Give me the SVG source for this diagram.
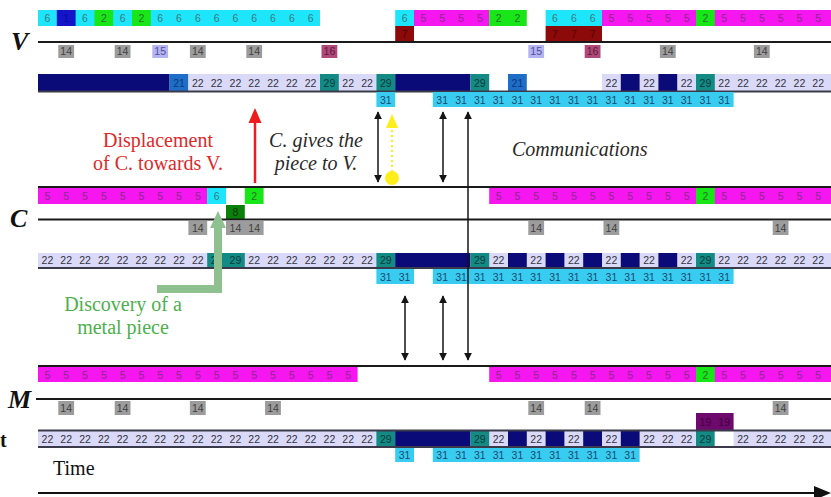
<svg xmlns="http://www.w3.org/2000/svg" width="831" height="497" viewBox="0 0 831 497">
<style>
.cy{fill:#1ee6fa}.mg{fill:#f516f0}.gr{fill:#19e619}.bl{fill:#1414c8}.dr{fill:#8c0a0a}.gy{fill:#9c9c9c}.lv{fill:#b4b4f0}.rs{fill:#b0487a}.nv{fill:#0a0a78}.md{fill:#1e6ec8}.la{fill:#dadaf8}.tl{fill:#138a84}.dg{fill:#0a800a}.pp{fill:#6e0a6e}.c31{fill:#38cdf0}.wh{fill:#fff}
text.n{font-family:"Liberation Sans",Arial,sans-serif;font-size:10.5px;text-anchor:middle}
.tcy{fill:#3c7880}.tmg{fill:#8c2a8c}.tgr{fill:#2a702a}.tbl{fill:#0a0aa0}.tdr{fill:#5a0000}.tgy{fill:#404040}.tlv{fill:#5050a0}.trs{fill:#5a1a3a}.tla{fill:#333340}.ttl{fill:#063c3c}.tmd{fill:#0a3a80}.t31{fill:#1a4a70}.tdg{fill:#053a05}.tpp{fill:#400040}
.ln{stroke:#1a1a1a;stroke-width:1.8}.ls{stroke:#3a3a4a;stroke-width:2}
.lab{font-family:"Liberation Serif","Times New Roman",serif;font-weight:bold;font-style:italic;font-size:26px;fill:#111}
.ann{font-family:"Liberation Serif","Times New Roman",serif;font-size:20px}
.arr{stroke:#151515;stroke-width:1.5;marker-start:url(#ah);marker-end:url(#ah)}
</style>
<defs>
<marker id="ah" viewBox="0 0 10 10" refX="9" refY="5" markerUnits="userSpaceOnUse" markerWidth="8" markerHeight="8" orient="auto-start-reverse"><path d="M0,0 L10,5 L0,10 z" fill="#151515"/></marker>
</defs>

<g id="row-V">
<text class="lab" x="11" y="50">V</text>
<rect class="cy" x="38" y="10" width="282" height="16"/>
<rect class="bl" x="56.8" y="10" width="18.8" height="16"/>
<rect class="gr" x="94.4" y="10" width="18.8" height="16"/>
<rect class="gr" x="132" y="10" width="18.8" height="16"/>
<rect class="cy" x="395.2" y="10" width="18.8" height="16"/>
<rect class="mg" x="414" y="10" width="75.2" height="16"/>
<rect class="gr" x="489.2" y="10" width="37.6" height="16"/>
<rect class="cy" x="545.6" y="10" width="56.4" height="16"/>
<rect class="mg" x="602" y="10" width="229" height="16"/>
<rect class="gr" x="696" y="10" width="18.8" height="16"/>
<g class="tcy"><text class="n" x="47.4" y="21.5">6</text><text class="n" x="85" y="21.5">6</text><text class="n" x="122.6" y="21.5">6</text><text class="n" x="160.2" y="21.5">6</text><text class="n" x="179" y="21.5">6</text><text class="n" x="197.8" y="21.5">6</text><text class="n" x="216.6" y="21.5">6</text><text class="n" x="235.4" y="21.5">6</text><text class="n" x="254.2" y="21.5">6</text><text class="n" x="273" y="21.5">6</text><text class="n" x="291.8" y="21.5">6</text><text class="n" x="310.6" y="21.5">6</text><text class="n" x="404.6" y="21.5">6</text><text class="n" x="555" y="21.5">6</text><text class="n" x="573.8" y="21.5">6</text><text class="n" x="592.6" y="21.5">6</text></g>
<text class="n tbl" x="66.2" y="21.5">1</text>
<g class="tgr"><text class="n" x="103.8" y="21.5">2</text><text class="n" x="141.4" y="21.5">2</text><text class="n" x="498.6" y="21.5">2</text><text class="n" x="517.4" y="21.5">2</text><text class="n" x="705.4" y="21.5">2</text></g>
<g class="tmg"><text class="n" x="423.4" y="21.5">5</text><text class="n" x="442.2" y="21.5">5</text><text class="n" x="461" y="21.5">5</text><text class="n" x="479.8" y="21.5">5</text><text class="n" x="611.4" y="21.5">5</text><text class="n" x="630.2" y="21.5">5</text><text class="n" x="649" y="21.5">5</text><text class="n" x="667.8" y="21.5">5</text><text class="n" x="686.6" y="21.5">5</text><text class="n" x="724.2" y="21.5">5</text><text class="n" x="743" y="21.5">5</text><text class="n" x="761.8" y="21.5">5</text><text class="n" x="780.6" y="21.5">5</text><text class="n" x="799.4" y="21.5">5</text><text class="n" x="818.2" y="21.5">5</text></g>
<rect class="dr" x="395.2" y="26" width="18.8" height="16"/>
<rect class="dr" x="545.6" y="26" width="56.4" height="16"/>
<g class="tdr"><text class="n" x="404.6" y="37.5">7</text><text class="n" x="555" y="37.5">7</text><text class="n" x="573.8" y="37.5">7</text><text class="n" x="592.6" y="37.5">7</text></g>
<line class="ln" x1="38" y1="42" x2="831" y2="42"/>
<g class="gy"><rect x="58.3" y="45" width="15.8" height="13"/><rect x="114.7" y="45" width="15.8" height="13"/><rect x="189.9" y="45" width="15.8" height="13"/><rect x="246.3" y="45" width="15.8" height="13"/><rect x="659.9" y="45" width="15.8" height="13"/><rect x="753.9" y="45" width="15.8" height="13"/></g>
<rect class="lv" x="152.3" y="45" width="15.8" height="13"/><rect class="lv" x="528.3" y="45" width="15.8" height="13"/>
<rect class="rs" x="321.5" y="45" width="15.8" height="13"/><rect class="rs" x="584.7" y="45" width="15.8" height="13"/>
<g class="tgy"><text class="n" x="66.2" y="55">14</text><text class="n" x="122.6" y="55">14</text><text class="n" x="197.8" y="55">14</text><text class="n" x="254.2" y="55">14</text><text class="n" x="667.8" y="55">14</text><text class="n" x="761.8" y="55">14</text></g>
<text class="n tlv" x="160.2" y="55">15</text><text class="n tlv" x="536.2" y="55">15</text>
<text class="n trs" x="329.4" y="55">16</text><text class="n trs" x="592.6" y="55">16</text>
<rect class="nv" x="38" y="74" width="131.6" height="17"/>
<rect class="md" x="169.6" y="74" width="18.8" height="17"/>
<rect class="la" x="188.4" y="74" width="188" height="17"/>
<rect class="tl" x="320" y="74" width="18.8" height="17"/>
<rect class="tl" x="376.4" y="74" width="18.8" height="17"/>
<rect class="nv" x="395.2" y="74" width="75.2" height="17"/>
<rect class="tl" x="470.4" y="74" width="18.8" height="17"/>
<rect class="md" x="508" y="74" width="18.8" height="17"/>
<rect class="la" x="602" y="74" width="229" height="17"/>
<rect class="nv" x="620.8" y="74" width="18.8" height="17"/>
<rect class="nv" x="658.4" y="74" width="18.8" height="17"/>
<rect class="tl" x="696" y="74" width="18.8" height="17"/>
<text class="n tmd" x="179" y="86.5">21</text><text class="n tmd" x="517.4" y="86.5">21</text>
<g class="tla"><text class="n" x="197.8" y="86.5">22</text><text class="n" x="216.6" y="86.5">22</text><text class="n" x="235.4" y="86.5">22</text><text class="n" x="254.2" y="86.5">22</text><text class="n" x="273" y="86.5">22</text><text class="n" x="291.8" y="86.5">22</text><text class="n" x="310.6" y="86.5">22</text><text class="n" x="348.2" y="86.5">22</text><text class="n" x="367" y="86.5">22</text><text class="n" x="611.4" y="86.5">22</text><text class="n" x="649" y="86.5">22</text><text class="n" x="686.6" y="86.5">22</text><text class="n" x="724.2" y="86.5">22</text><text class="n" x="743" y="86.5">22</text><text class="n" x="761.8" y="86.5">22</text><text class="n" x="780.6" y="86.5">22</text><text class="n" x="799.4" y="86.5">22</text><text class="n" x="818.2" y="86.5">22</text></g>
<g class="ttl"><text class="n" x="329.4" y="86.5">29</text><text class="n" x="385.8" y="86.5">29</text><text class="n" x="479.8" y="86.5">29</text><text class="n" x="705.4" y="86.5">29</text></g>
<line class="ls" x1="38" y1="91.5" x2="831" y2="91.5"/>
<rect class="c31" x="376.4" y="92" width="18.8" height="15"/>
<rect class="c31" x="432.8" y="92" width="300.8" height="15"/>
<g class="t31"><text class="n" x="385.8" y="103.5">31</text><text class="n" x="442.2" y="103.5">31</text><text class="n" x="461" y="103.5">31</text><text class="n" x="479.8" y="103.5">31</text><text class="n" x="498.6" y="103.5">31</text><text class="n" x="517.4" y="103.5">31</text><text class="n" x="536.2" y="103.5">31</text><text class="n" x="555" y="103.5">31</text><text class="n" x="573.8" y="103.5">31</text><text class="n" x="592.6" y="103.5">31</text><text class="n" x="611.4" y="103.5">31</text><text class="n" x="630.2" y="103.5">31</text><text class="n" x="649" y="103.5">31</text><text class="n" x="667.8" y="103.5">31</text><text class="n" x="686.6" y="103.5">31</text><text class="n" x="705.4" y="103.5">31</text><text class="n" x="724.2" y="103.5">31</text></g>
</g>

<g id="row-C">
<text class="lab" x="10" y="227">C</text>
<line class="ln" x1="38" y1="187" x2="831" y2="187"/>
<rect class="mg" x="38" y="188" width="169.2" height="16"/>
<rect class="cy" x="207.2" y="188" width="18.8" height="16"/>
<rect class="gr" x="244.8" y="188" width="18.8" height="16"/>
<rect class="mg" x="489.2" y="188" width="341.8" height="16"/>
<rect class="gr" x="696" y="188" width="18.8" height="16"/>
<g class="tmg"><text class="n" x="47.4" y="200">5</text><text class="n" x="66.2" y="200">5</text><text class="n" x="85" y="200">5</text><text class="n" x="103.8" y="200">5</text><text class="n" x="122.6" y="200">5</text><text class="n" x="141.4" y="200">5</text><text class="n" x="160.2" y="200">5</text><text class="n" x="179" y="200">5</text><text class="n" x="197.8" y="200">5</text><text class="n" x="498.6" y="200">5</text><text class="n" x="517.4" y="200">5</text><text class="n" x="536.2" y="200">5</text><text class="n" x="555" y="200">5</text><text class="n" x="573.8" y="200">5</text><text class="n" x="592.6" y="200">5</text><text class="n" x="611.4" y="200">5</text><text class="n" x="630.2" y="200">5</text><text class="n" x="649" y="200">5</text><text class="n" x="667.8" y="200">5</text><text class="n" x="686.6" y="200">5</text><text class="n" x="724.2" y="200">5</text><text class="n" x="743" y="200">5</text><text class="n" x="761.8" y="200">5</text><text class="n" x="780.6" y="200">5</text><text class="n" x="799.4" y="200">5</text><text class="n" x="818.2" y="200">5</text></g>
<text class="n tcy" x="216.6" y="200">6</text>
<text class="n tgr" x="254.2" y="200">2</text><text class="n tgr" x="705.4" y="200">2</text>
<rect class="dg" x="226" y="205" width="18.8" height="14"/>
<text class="n tdg" x="235.4" y="215.5">8</text>
<line class="ln" x1="38" y1="219.5" x2="831" y2="219.5"/>
<g class="gy"><rect x="188.4" y="221" width="18.8" height="14"/><rect x="226" y="221" width="37.6" height="14"/><rect x="528.3" y="221" width="15.8" height="14"/><rect x="603.5" y="221" width="15.8" height="14"/><rect x="772.7" y="221" width="15.8" height="14"/></g>
<g class="tgy"><text class="n" x="197.8" y="232">14</text><text class="n" x="235.4" y="232">14</text><text class="n" x="254.2" y="232">14</text><text class="n" x="536.2" y="232">14</text><text class="n" x="611.4" y="232">14</text><text class="n" x="780.6" y="232">14</text></g>
<rect class="la" x="38" y="253" width="793" height="14"/>
<rect class="tl" x="207.2" y="253" width="37.6" height="14"/>
<rect class="tl" x="376.4" y="253" width="18.8" height="14"/>
<rect class="nv" x="395.2" y="253" width="75.2" height="14"/>
<rect class="tl" x="470.4" y="253" width="18.8" height="14"/>
<g class="nv"><rect x="508" y="253" width="18.8" height="14"/><rect x="545.6" y="253" width="18.8" height="14"/><rect x="583.2" y="253" width="18.8" height="14"/><rect x="620.8" y="253" width="18.8" height="14"/><rect x="658.4" y="253" width="18.8" height="14"/></g>
<rect class="tl" x="696" y="253" width="18.8" height="14"/>
<g class="tla"><text class="n" x="47.4" y="264">22</text><text class="n" x="66.2" y="264">22</text><text class="n" x="85" y="264">22</text><text class="n" x="103.8" y="264">22</text><text class="n" x="122.6" y="264">22</text><text class="n" x="141.4" y="264">22</text><text class="n" x="160.2" y="264">22</text><text class="n" x="179" y="264">22</text><text class="n" x="197.8" y="264">22</text><text class="n" x="254.2" y="264">22</text><text class="n" x="273" y="264">22</text><text class="n" x="291.8" y="264">22</text><text class="n" x="310.6" y="264">22</text><text class="n" x="329.4" y="264">22</text><text class="n" x="348.2" y="264">22</text><text class="n" x="367" y="264">22</text><text class="n" x="498.6" y="264">22</text><text class="n" x="536.2" y="264">22</text><text class="n" x="573.8" y="264">22</text><text class="n" x="611.4" y="264">22</text><text class="n" x="649" y="264">22</text><text class="n" x="686.6" y="264">22</text><text class="n" x="724.2" y="264">22</text><text class="n" x="743" y="264">22</text><text class="n" x="761.8" y="264">22</text><text class="n" x="780.6" y="264">22</text><text class="n" x="799.4" y="264">22</text><text class="n" x="818.2" y="264">22</text></g>
<g class="ttl"><text class="n" x="216.6" y="264">29</text><text class="n" x="235.4" y="264">29</text><text class="n" x="385.8" y="264">29</text><text class="n" x="479.8" y="264">29</text><text class="n" x="705.4" y="264">29</text></g>
<line class="ls" x1="38" y1="268" x2="831" y2="268"/>
<rect class="c31" x="376.4" y="269" width="37.6" height="15"/>
<rect class="c31" x="432.8" y="269" width="300.8" height="15"/>
<g class="t31"><text class="n" x="385.8" y="280.5">31</text><text class="n" x="404.6" y="280.5">31</text><text class="n" x="442.2" y="280.5">31</text><text class="n" x="461" y="280.5">31</text><text class="n" x="479.8" y="280.5">31</text><text class="n" x="498.6" y="280.5">31</text><text class="n" x="517.4" y="280.5">31</text><text class="n" x="536.2" y="280.5">31</text><text class="n" x="555" y="280.5">31</text><text class="n" x="573.8" y="280.5">31</text><text class="n" x="592.6" y="280.5">31</text><text class="n" x="611.4" y="280.5">31</text><text class="n" x="630.2" y="280.5">31</text><text class="n" x="649" y="280.5">31</text><text class="n" x="667.8" y="280.5">31</text><text class="n" x="686.6" y="280.5">31</text><text class="n" x="705.4" y="280.5">31</text><text class="n" x="724.2" y="280.5">31</text></g>
</g>

<g id="row-M">
<text class="lab" x="8" y="408">M</text>
<line class="ln" x1="38" y1="366" x2="831" y2="366"/>
<rect class="mg" x="38" y="367" width="319.6" height="15"/>
<rect class="mg" x="489.2" y="367" width="341.8" height="15"/>
<rect class="gr" x="696" y="367" width="18.8" height="15"/>
<g class="tmg"><text class="n" x="47.4" y="378.5">5</text><text class="n" x="66.2" y="378.5">5</text><text class="n" x="85" y="378.5">5</text><text class="n" x="103.8" y="378.5">5</text><text class="n" x="122.6" y="378.5">5</text><text class="n" x="141.4" y="378.5">5</text><text class="n" x="160.2" y="378.5">5</text><text class="n" x="179" y="378.5">5</text><text class="n" x="197.8" y="378.5">5</text><text class="n" x="216.6" y="378.5">5</text><text class="n" x="235.4" y="378.5">5</text><text class="n" x="254.2" y="378.5">5</text><text class="n" x="273" y="378.5">5</text><text class="n" x="291.8" y="378.5">5</text><text class="n" x="310.6" y="378.5">5</text><text class="n" x="329.4" y="378.5">5</text><text class="n" x="348.2" y="378.5">5</text><text class="n" x="498.6" y="378.5">5</text><text class="n" x="517.4" y="378.5">5</text><text class="n" x="536.2" y="378.5">5</text><text class="n" x="555" y="378.5">5</text><text class="n" x="573.8" y="378.5">5</text><text class="n" x="592.6" y="378.5">5</text><text class="n" x="611.4" y="378.5">5</text><text class="n" x="630.2" y="378.5">5</text><text class="n" x="649" y="378.5">5</text><text class="n" x="667.8" y="378.5">5</text><text class="n" x="686.6" y="378.5">5</text><text class="n" x="724.2" y="378.5">5</text><text class="n" x="743" y="378.5">5</text><text class="n" x="761.8" y="378.5">5</text><text class="n" x="780.6" y="378.5">5</text><text class="n" x="799.4" y="378.5">5</text><text class="n" x="818.2" y="378.5">5</text></g>
<text class="n tgr" x="705.4" y="378.5">2</text>
<line class="ln" x1="36" y1="399" x2="831" y2="399"/>
<g class="gy"><rect x="58.3" y="401" width="15.8" height="14"/><rect x="114.7" y="401" width="15.8" height="14"/><rect x="189.9" y="401" width="15.8" height="14"/><rect x="265.1" y="401" width="15.8" height="14"/><rect x="528.3" y="401" width="15.8" height="14"/><rect x="584.7" y="401" width="15.8" height="14"/><rect x="772.7" y="401" width="15.8" height="14"/></g>
<g class="tgy"><text class="n" x="66.2" y="412">14</text><text class="n" x="122.6" y="412">14</text><text class="n" x="197.8" y="412">14</text><text class="n" x="273" y="412">14</text><text class="n" x="536.2" y="412">14</text><text class="n" x="592.6" y="412">14</text><text class="n" x="780.6" y="412">14</text></g>
<rect class="pp" x="696" y="413" width="37.6" height="17"/>
<text class="n tpp" x="705.4" y="425.5">19</text><text class="n tpp" x="724.2" y="425.5">19</text>
<rect class="la" x="38" y="431" width="793" height="16"/>
<rect class="tl" x="376.4" y="431" width="18.8" height="16"/>
<rect class="nv" x="395.2" y="431" width="75.2" height="16"/>
<rect class="tl" x="470.4" y="431" width="18.8" height="16"/>
<g class="nv"><rect x="508" y="431" width="18.8" height="16"/><rect x="545.6" y="431" width="18.8" height="16"/><rect x="583.2" y="431" width="18.8" height="16"/><rect x="620.8" y="431" width="18.8" height="16"/></g>
<rect class="tl" x="696" y="431" width="18.8" height="16"/>
<rect class="wh" x="714.8" y="431" width="18.8" height="16"/>
<g class="tla"><text class="n" x="47.4" y="443">22</text><text class="n" x="66.2" y="443">22</text><text class="n" x="85" y="443">22</text><text class="n" x="103.8" y="443">22</text><text class="n" x="122.6" y="443">22</text><text class="n" x="141.4" y="443">22</text><text class="n" x="160.2" y="443">22</text><text class="n" x="179" y="443">22</text><text class="n" x="197.8" y="443">22</text><text class="n" x="216.6" y="443">22</text><text class="n" x="235.4" y="443">22</text><text class="n" x="254.2" y="443">22</text><text class="n" x="273" y="443">22</text><text class="n" x="291.8" y="443">22</text><text class="n" x="310.6" y="443">22</text><text class="n" x="329.4" y="443">22</text><text class="n" x="348.2" y="443">22</text><text class="n" x="367" y="443">22</text><text class="n" x="498.6" y="443">22</text><text class="n" x="536.2" y="443">22</text><text class="n" x="573.8" y="443">22</text><text class="n" x="611.4" y="443">22</text><text class="n" x="649" y="443">22</text><text class="n" x="667.8" y="443">22</text><text class="n" x="686.6" y="443">22</text><text class="n" x="743" y="443">22</text><text class="n" x="761.8" y="443">22</text><text class="n" x="780.6" y="443">22</text><text class="n" x="799.4" y="443">22</text><text class="n" x="818.2" y="443">22</text></g>
<g class="ttl"><text class="n" x="385.8" y="443">29</text><text class="n" x="479.8" y="443">29</text><text class="n" x="705.4" y="443">29</text></g>
<line class="ls" x1="38" y1="430.5" x2="831" y2="430.5"/>
<line class="ls" x1="38" y1="447" x2="831" y2="447"/>
<rect class="c31" x="395.2" y="448" width="18.8" height="14"/>
<rect class="c31" x="432.8" y="448" width="206.8" height="14"/>
<g class="t31"><text class="n" x="404.6" y="459">31</text><text class="n" x="442.2" y="459">31</text><text class="n" x="461" y="459">31</text><text class="n" x="479.8" y="459">31</text><text class="n" x="498.6" y="459">31</text><text class="n" x="517.4" y="459">31</text><text class="n" x="536.2" y="459">31</text><text class="n" x="555" y="459">31</text><text class="n" x="573.8" y="459">31</text><text class="n" x="592.6" y="459">31</text><text class="n" x="611.4" y="459">31</text><text class="n" x="630.2" y="459">31</text></g>
</g>

<g id="time-axis">
<text x="0" y="447" style="font-family:'Liberation Serif','Times New Roman',serif;font-weight:bold;font-size:20px;fill:#111">t</text>
<text class="ann" x="53" y="475" style="fill:#111">Time</text>
<line x1="38" y1="493" x2="816" y2="493" stroke="#111" stroke-width="1.8"/>
<polygon points="831,493 814,486 814,500" fill="#111"/>
</g>

<g id="connectors">
<line class="arr" x1="378" y1="112" x2="378" y2="182"/>
<line class="arr" x1="443" y1="112" x2="443" y2="182"/>
<line class="arr" x1="468" y1="112" x2="468" y2="360"/>
<line class="arr" x1="405" y1="296" x2="405" y2="360"/>
<line class="arr" x1="443" y1="296" x2="443" y2="360"/>
<polygon points="392,114 386,128 398,128" fill="#ffee1a"/>
<line x1="392" y1="130" x2="392" y2="172" stroke="#ffee1a" stroke-width="2" stroke-dasharray="2,3"/>
<circle cx="392" cy="178" r="7" fill="#ffee1a"/>
<line x1="255" y1="183" x2="255" y2="121" stroke="#ee1c1c" stroke-width="2.5"/>
<polygon points="255,108 248.5,123 261.5,123" fill="#ee1c1c"/>
<polyline points="157,289 218,289 218,226" fill="none" stroke="#8fc08f" stroke-width="8"/>
<polygon points="218,211 210,228 226,228" fill="#8fc08f"/>
</g>

<g id="annotations">
<text class="ann" x="158" y="147" text-anchor="middle" fill="#e0282a">Displacement</text>
<text class="ann" x="158" y="170" text-anchor="middle" fill="#e0282a">of C. towards V.</text>
<text class="ann" x="316" y="147" text-anchor="middle" font-style="italic" fill="#2a2a2a">C. gives the</text>
<text class="ann" x="316" y="170" text-anchor="middle" font-style="italic" fill="#2a2a2a">piece to V.</text>
<text class="ann" x="512" y="156" font-style="italic" fill="#2a2a2a">Communications</text>
<text class="ann" x="123" y="311" text-anchor="middle" fill="#4cb04c">Discovery of a</text>
<text class="ann" x="123" y="334" text-anchor="middle" fill="#4cb04c">metal piece</text>
</g>
</svg>
